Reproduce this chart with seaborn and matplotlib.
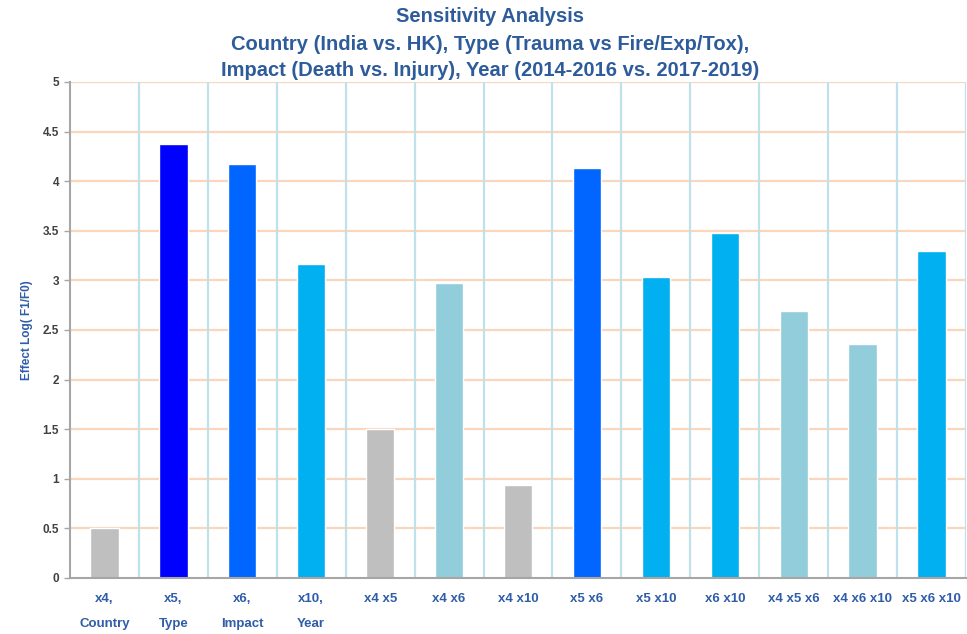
import matplotlib
matplotlib.use("Agg")
import matplotlib.pyplot as plt
import numpy as np
import pandas as pd
import seaborn as sns

categories = ["x4,\n\nCountry", "x5,\n\nType", "x6,\n\nImpact", "x10,\n\nYear",
              "x4 x5", "x4 x6", "x4 x10", "x5 x6", "x5 x10", "x6 x10",
              "x4 x5 x6", "x4 x6 x10", "x5 x6 x10"]
effects = [0.50, 4.37, 4.17, 3.17, 1.50, 2.97, 0.94, 4.13, 3.03, 3.48, 2.69, 2.36, 3.30]
bar_colors = ["#BFBFBF", "#0000FF", "#0066FF", "#00B0F0", "#BFBFBF", "#92CDDC", "#BFBFBF",
              "#0066FF", "#00B0F0", "#00B0F0", "#92CDDC", "#92CDDC", "#00B0F0"]
y_ticks = [0, 0.5, 1, 1.5, 2, 2.5, 3, 3.5, 4, 4.5, 5]
y_tick_labels = ["0", "0.5", "1", "1.5", "2", "2.5", "3", "3.5", "4", "4.5", "5"]

title_lines = ["Sensitivity Analysis",
               "Country (India vs. HK), Type (Trauma vs Fire/Exp/Tox),",
               "Impact (Death vs. Injury), Year (2014-2016 vs. 2017-2019)"]

sns.set_theme(style="white")
plt.rcParams["font.family"] = ["Liberation Sans", "DejaVu Sans"]

df = pd.DataFrame({"combo": categories, "effect": effects})

fig = plt.figure(figsize=(9.67, 6.34), dpi=100)
ax = fig.add_axes([70 / 967, 1 - 578 / 634, 896 / 967, (578 - 82) / 634])

sns.barplot(data=df, x="combo", y="effect", hue="combo",
            palette=dict(zip(categories, bar_colors)), legend=False,
            width=0.41, saturation=1, ax=ax, zorder=3)

n = len(categories)
ax.set_xlim(-0.5, n - 0.5)
ax.set_ylim(0, 5)

# horizontal grid at the value ticks, vertical grid between categories
for y in y_ticks[1:]:
    ax.axhline(y, color="#FAD7BC", lw=1.6, zorder=1)
for b in np.arange(0.5, n, 1.0):
    ax.axvline(b, color="#BFE1EA", lw=1.6, zorder=1)

ax.set_yticks(y_ticks)
ax.set_yticklabels(y_tick_labels, fontsize=8.5, fontweight="bold", color="#404040")
ax.set_xticks(range(n))
ax.set_xticklabels(categories, fontsize=9.5, fontweight="bold", color="#2F5DA8",
                   linespacing=1.05, va="top")
ax.set_xticks(np.arange(-0.5, n, 1.0), minor=True)
ax.tick_params(axis="x", which="major", length=0, pad=11)
ax.tick_params(axis="x", which="minor", length=4, color="#A6A6A6", width=1, direction="out")
ax.tick_params(axis="y", length=4, color="#A6A6A6", width=1, direction="out", pad=4,
               left=True)
ax.set_xlabel("")
ax.set_ylabel("Effect Log( F1/F0)", fontsize=8.5, fontweight="bold", color="#2F5DA8",
              labelpad=7)

for side in ["top", "right"]:
    ax.spines[side].set_visible(False)
for side in ["left", "bottom"]:
    ax.spines[side].set_color("#A6A6A6")
    ax.spines[side].set_linewidth(1.5)
    ax.spines[side].set_zorder(4)

title_font = ["Liberation Sans", "DejaVu Sans"]
for i, (line, ypx) in enumerate(zip(title_lines, [17, 45, 71])):
    fig.text(490 / 967, 1 - ypx / 634, line, ha="center", va="center",
             fontsize=14.5, fontweight="bold", color="#2E5C9A", family=title_font)

fig.savefig("out.png", dpi=100, facecolor="white")
